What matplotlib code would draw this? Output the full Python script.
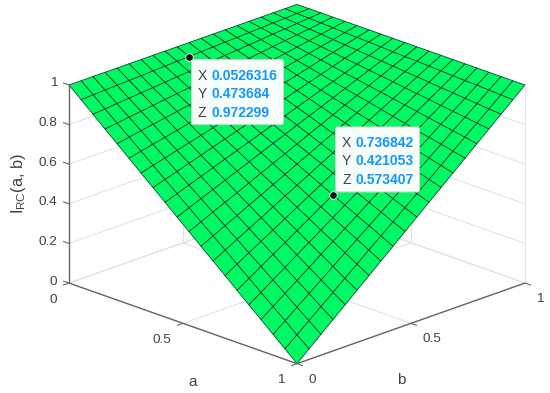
import numpy as np
import matplotlib
matplotlib.use("Agg")
import matplotlib.pyplot as plt
from matplotlib.patches import FancyBboxPatch
from matplotlib.transforms import IdentityTransform
from mpl_toolkits.mplot3d import proj3d

plt.rcParams['font.family'] = ['Liberation Sans', 'DejaVu Sans']
plt.rcParams['mathtext.fontset'] = 'custom'
plt.rcParams['mathtext.rm'] = 'Liberation Sans'
plt.rcParams['mathtext.default'] = 'regular'

# Grid values
a_values = [0, 0.053, 0.105, 0.158, 0.211, 0.263, 0.316, 0.368, 0.421, 0.474,
            0.526, 0.579, 0.632, 0.684, 0.737, 0.789, 0.842, 0.895, 0.947, 1]
b_values = [0, 0.053, 0.105, 0.158, 0.211, 0.263, 0.316, 0.368, 0.421, 0.474,
            0.526, 0.579, 0.632, 0.684, 0.737, 0.789, 0.842, 0.895, 0.947, 1]

# One row per a value, one column per b value
z_values = [
    [1, 1, 1, 1, 1, 1, 1, 1, 1, 1, 1, 1, 1, 1, 1, 1, 1, 1, 1, 1],
    [.947, .950, .953, .956, .958, .961, .964, .967, .970, .972, .975, .978, .981, .983, .986, .989, .992, .994, .997, 1],
    [.895, .900, .906, .911, .917, .922, .928, .934, .939, .945, .950, .956, .961, .967, .972, .978, .983, .989, .994, 1],
    [.842, .850, .859, .867, .875, .884, .892, .900, .909, .917, .925, .934, .942, .950, .958, .967, .975, .983, .992, 1],
    [.789, .801, .812, .823, .834, .845, .856, .867, .878, .889, .900, .911, .922, .934, .945, .956, .967, .978, .989, 1],
    [.737, .751, .765, .778, .792, .806, .820, .834, .848, .861, .875, .889, .903, .917, .931, .945, .958, .972, .986, 1],
    [.684, .701, .717, .734, .751, .767, .784, .801, .817, .834, .850, .867, .884, .900, .917, .934, .950, .967, .983, 1],
    [.632, .651, .670, .690, .709, .729, .748, .767, .787, .806, .825, .845, .864, .884, .903, .922, .942, .961, .981, 1],
    [.579, .601, .623, .645, .668, .690, .712, .734, .756, .778, .801, .823, .845, .867, .889, .911, .934, .956, .978, 1],
    [.526, .551, .576, .601, .626, .651, .676, .701, .726, .751, .776, .801, .825, .850, .875, .900, .925, .950, .975, 1],
    [.474, .501, .529, .557, .584, .612, .640, .668, .695, .723, .751, .778, .806, .834, .861, .889, .917, .945, .972, 1],
    [.421, .452, .482, .512, .543, .573, .604, .634, .665, .695, .726, .756, .787, .817, .848, .878, .909, .939, .970, 1],
    [.368, .402, .435, .468, .501, .535, .568, .601, .634, .668, .701, .734, .767, .801, .834, .867, .900, .934, .967, 1],
    [.316, .352, .388, .424, .460, .496, .532, .568, .604, .640, .676, .712, .748, .784, .820, .856, .892, .928, .964, 1],
    [.263, .302, .341, .380, .418, .457, .496, .535, .573, .612, .651, .690, .729, .767, .806, .845, .884, .922, .961, 1],
    [.211, .252, .294, .335, .377, .418, .460, .501, .543, .584, .626, .668, .709, .751, .792, .834, .875, .917, .958, 1],
    [.158, .202, .247, .291, .335, .380, .424, .468, .512, .557, .601, .645, .690, .734, .778, .823, .867, .911, .956, 1],
    [.105, .152, .199, .247, .294, .341, .388, .435, .482, .529, .576, .623, .670, .717, .765, .812, .859, .906, .953, 1],
    [.053, .102, .152, .202, .252, .302, .352, .402, .452, .501, .551, .601, .651, .701, .751, .801, .850, .900, .950, 1],
    [0, .053, .105, .158, .211, .263, .316, .368, .421, .474, .526, .579, .632, .684, .737, .789, .842, .895, .947, 1],
]

# Axis ticks
ab_ticks = [0, 0.5, 1]
ab_tick_labels = ['0', '0.5', '1']
z_ticks = [0, 0.2, 0.4, 0.6, 0.8, 1]
z_tick_labels = ['0', '0.2', '0.4', '0.6', '0.8', '1']

# Data tips
tip_x = [0.0526316, 0.736842]
tip_y = [0.473684, 0.421053]
tip_z = [0.972299, 0.573407]
tip_x_labels = ['0.0526316', '0.736842']
tip_y_labels = ['0.473684', '0.421053']
tip_z_labels = ['0.972299', '0.573407']

W, H = 550, 393
TEXT_COLOR = '#404040'
AXIS_COLOR = '#666666'
GRID_COLOR = '#e2e2e2'
TIP_BLUE = '#1296ff'

fig = plt.figure(figsize=(W / 100, H / 100), dpi=100, facecolor='white')
ax = fig.add_axes([0, 0, 1, 1], projection='3d', proj_type='ortho')
ax.computed_zorder = False
ax.set_xlim(0, 1)
ax.set_ylim(0, 1)
ax.set_zlim(0, 1)
ax.set_box_aspect((1, 1, 0.6566))
ax.view_init(elev=20.7, azim=-45)
ax.set_axis_off()


def to_px(x, y, z):
    xp, yp, _ = proj3d.proj_transform(x, y, z, ax.get_proj())
    return ax.transData.transform((xp, yp))


def place_axes(left, bottom, size):
    ax.set_position([left / W, bottom / H, size / W, size / H])
    ax.apply_aspect()


# Scale the square axes so the box corners land where they are in the picture
place_axes(0, 0, H)
size = H * 456 / (to_px(1, 1, 1)[0] - to_px(0, 0, 1)[0])
place_axes(0, 0, size)
corner = to_px(0, 0, 1)
place_axes(69 - corner[0], (H - 85) - corner[1], size)


def line3d(p, q, color=GRID_COLOR, lw=0.8, zorder=1):
    ax.plot([p[0], q[0]], [p[1], q[1]], [p[2], q[2]], color=color, lw=lw,
            zorder=zorder, solid_capstyle='butt')


# Walls and floor grid
for z in z_ticks:
    line3d((0, 0, z), (0, 1, z))
    line3d((0, 1, z), (1, 1, z))
for t in ab_ticks:
    line3d((t, 0, 0), (t, 1, 0))
    line3d((0, t, 0), (1, t, 0))
    line3d((0, t, 0), (0, t, 1))
    line3d((t, 1, 0), (t, 1, 1))

# Surface
X, Y = np.meshgrid(a_values, b_values, indexing='ij')
ax.plot_surface(X, Y, np.array(z_values), rstride=1, cstride=1, color='#00f864',
                edgecolor='#06331a', linewidth=0.5, shade=False, zorder=2)

# Axis lines and ticks
line3d((0, 0, 0), (0, 0, 1), AXIS_COLOR, 1.0, 3)
line3d((0, 0, 0), (1, 0, 0), AXIS_COLOR, 1.0, 3)
line3d((1, 0, 0), (1, 1, 0), AXIS_COLOR, 1.0, 3)
tick = 0.026
for z in z_ticks:
    line3d((0, 0, z), (-tick, 0, z), AXIS_COLOR, 0.8, 3)
for t in ab_ticks:
    line3d((t, 0, 0), (t, -tick, 0), AXIS_COLOR, 0.8, 3)
    line3d((1, t, 0), (1 + tick, t, 0), AXIS_COLOR, 0.8, 3)


def label(px, py, s, size=9.7, color=TEXT_COLOR, **kw):
    # px, py are pixels measured from the top left of the figure
    fig.text(px, H - py, s, fontsize=size, color=color,
             transform=IdentityTransform(), **kw)


def from_top(x, y, z):
    p = to_px(x, y, z)
    return p[0], H - p[1]


# Tick labels
for z, s in zip(z_ticks, z_tick_labels):
    px, py = from_top(0, 0, z)
    label(px - 11.5, py - 1.5, s, ha='right', va='center')
for t, s in zip(ab_ticks, ab_tick_labels):
    px, py = from_top(t, 0, 0)
    label(px - 12, py + 16.5, s, ha='right', va='center')
    px, py = from_top(1, t, 0)
    label(px + 11.5, py + 16, s, ha='left', va='center')

# Axis labels
label(193, 382, 'a', size=11, ha='center', va='center')
label(401, 380.5, 'b', size=11, ha='center', va='center')
label(18, 184, 'I$_{RC}$(a, b)', size=11.8, rotation=90, ha='center', va='center')

# Data tips
tip_width = [94, 86]
for i in range(2):
    ax.plot([tip_x[i]], [tip_y[i]], [tip_z[i]], 'o', color='#151515', mec='white',
            mew=0.6, ms=5.5, zorder=5)
    px, py = from_top(tip_x[i], tip_y[i], tip_z[i])
    left, top = px + 1.5, py + 2
    if i == 1:
        top = py - 69
    fig.add_artist(FancyBboxPatch((left + 1, H - top - 66), tip_width[i] - 2, 65,
                                  boxstyle='round,pad=0,rounding_size=2',
                                  facecolor='#ffffff', edgecolor='#d0d0d0', lw=0.8,
                                  alpha=0.97, transform=IdentityTransform(), zorder=4))
    rows = zip('XYZ', (tip_x_labels[i], tip_y_labels[i], tip_z_labels[i]), (17, 35.5, 54))
    for name, value, dy in rows:
        label(left + 7.5, top + dy, name, size=10, ha='left', va='center', zorder=5)
        label(left + 21, top + dy, value, size=10, color=TIP_BLUE, fontweight='bold',
              ha='left', va='center', zorder=5)

fig.savefig('out.png', dpi=100, facecolor='white')
